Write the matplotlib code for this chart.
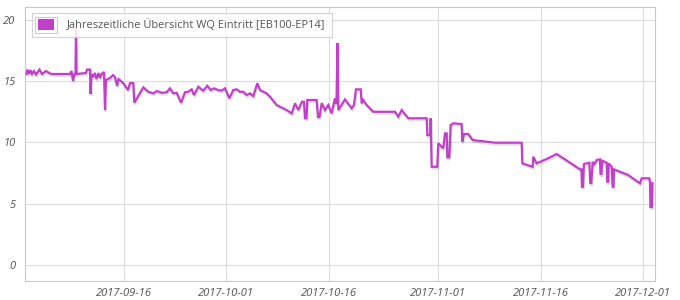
import matplotlib
matplotlib.use("Agg")
import matplotlib.pyplot as plt
import matplotlib.dates as mdates
import matplotlib.patheffects as pe
from matplotlib.patches import Rectangle
from matplotlib.legend_handler import HandlerBase
import pandas as pd

# ---- data (days since 2017-09-01, value) ----
start_date = "2017-09-01"
day_offsets = [
    0.72, 0.87, 1.09, 1.31, 1.53, 1.82, 2.11, 2.63, 2.99, 3.58, 4.31, 7.09, 7.31, 7.53, 7.75,
    7.90, 7.97, 8.05, 9.44, 9.58, 10.02, 10.10, 10.24, 10.46, 10.75, 10.97, 11.27, 11.49, 11.71,
    12.07, 12.22, 12.36, 12.66, 12.95, 13.39, 13.68, 13.98, 14.19, 14.56, 15.00, 15.59, 15.88,
    16.36, 16.51, 17.83, 18.56, 19.29, 19.79, 20.52, 21.25, 21.73, 22.22, 22.72, 23.35, 23.93,
    24.41, 24.91, 25.25, 25.88, 26.61, 27.20, 27.69, 28.18, 28.81, 29.30, 29.79, 30.42, 31.00,
    31.50, 31.98, 32.47, 32.97, 33.45, 33.93, 34.52, 34.91, 35.40, 35.89, 36.38, 37.36, 38.32,
    39.06, 39.55, 40.04, 40.52, 41.06, 41.35, 41.50, 41.72, 41.84, 43.21, 43.40, 43.62, 43.95,
    44.43, 44.91, 45.41, 45.89, 46.11, 46.26, 46.38, 47.36, 48.34, 48.67, 48.97, 49.66, 49.80,
    50.04, 50.53, 51.50, 54.68, 55.16, 55.66, 56.63, 59.32, 59.41, 59.85, 59.90, 60.05, 60.87,
    61.02, 61.27, 61.75, 62.00, 62.25, 62.34, 62.63, 62.83, 63.21, 64.44, 64.53, 64.78, 65.41,
    66.05, 69.32, 73.23, 73.32, 74.84, 74.93, 75.42, 77.12, 78.35, 79.57, 81.77, 81.98, 82.05,
    82.20, 82.34, 83.13, 83.27, 83.42, 83.62, 83.81, 84.21, 84.69, 84.77, 84.91, 85.03, 85.67,
    85.76, 85.91, 85.96, 86.40, 86.55, 86.67, 86.74, 88.84, 90.55, 90.80, 91.91, 92.01, 92.08,
    92.30, 92.37,
]
wq_values = [
    15.57, 15.93, 15.57, 15.89, 15.57, 15.81, 15.53, 15.93, 15.57, 15.81, 15.57, 15.57, 15.81, 15.00, 15.57,
    15.57, 19.32, 15.57, 15.65, 15.93, 15.93, 13.94, 15.57, 15.32, 15.65, 15.16, 15.65, 15.24, 15.57,
    15.73, 12.63, 15.08, 15.16, 15.24, 15.48, 15.32, 14.59, 15.16, 15.00, 14.75, 14.26, 14.83,
    14.83, 13.23, 14.48, 14.12, 13.99, 14.18, 14.04, 14.08, 14.40, 13.99, 14.04, 13.23, 14.08,
    14.12, 14.32, 13.85, 14.53, 14.21, 14.61, 14.26, 14.40, 14.26, 14.21, 14.40, 13.59, 14.26,
    14.32, 14.12, 14.12, 13.85, 13.99, 13.77, 14.81, 14.26, 14.12, 13.99, 13.72, 13.04, 12.77,
    12.55, 12.36, 13.18, 12.63, 13.31, 13.31, 11.96, 11.96, 13.45, 13.45, 12.06, 12.06, 13.20,
    12.63, 13.04, 12.36, 13.59, 13.12, 18.09, 12.63, 13.50, 12.77, 13.04, 14.32, 14.32, 13.18,
    13.45, 13.04, 12.49, 12.49, 12.09, 12.63, 11.96, 11.96, 10.59, 10.59, 11.96, 8.01, 8.01,
    9.92, 9.78, 9.51, 10.73, 10.73, 8.78, 8.78, 11.41, 11.55, 11.49, 10.05, 10.68, 10.68,
    10.19, 9.97, 9.97, 8.29, 8.01, 8.83, 8.29, 8.70, 9.05, 8.61, 7.80, 7.80, 6.38,
    6.38, 8.23, 8.34, 6.68, 6.68, 8.42, 8.15, 8.56, 8.61, 7.42, 7.42, 8.50, 8.34,
    6.79, 6.79, 8.29, 8.01, 6.38, 6.38, 7.80, 7.33, 6.66, 7.07, 7.07, 6.79, 4.73,
    4.73, 6.68,
]
series_label = "Jahreszeitliche Übersicht WQ Eintritt [EB100-EP14]"
y_ticks = [0, 5, 10, 15, 20]
x_tick_dates = ["2017-09-16", "2017-10-01", "2017-10-16", "2017-11-01", "2017-11-16", "2017-12-01"]

LINE_COLOR = "#c23fc9"
TEXT_COLOR = "#545454"
GRID_COLOR = "#dcdcdc"

base = pd.Timestamp(start_date)
dates = [base + pd.Timedelta(days=d) for d in day_offsets]

fig = plt.figure(figsize=(6.8, 3.0), dpi=100)
ax = fig.add_axes([25 / 680, 19 / 300, 630 / 680, 274 / 300])

ax.plot(dates, wq_values, color=LINE_COLOR, lw=1.6, solid_joinstyle="miter",
        path_effects=[pe.SimpleLineShadow(offset=(0.6, -1.4), shadow_color="#000000", alpha=0.12),
                      pe.Normal()], zorder=3)

ax.set_xlim(base + pd.Timedelta(days=0.505), base + pd.Timedelta(days=92.75))
ax.set_ylim(-1.30, 21.03)

ax.set_yticks(y_ticks)
ax.set_xticks([pd.Timestamp(d) for d in x_tick_dates])
ax.xaxis.set_major_formatter(mdates.DateFormatter("%Y-%m-%d"))

for lab in ax.get_xticklabels() + ax.get_yticklabels():
    lab.set_fontfamily("Open Sans")
    lab.set_fontstyle("italic")
    lab.set_fontsize(8)
    lab.set_color(TEXT_COLOR)
for lab in ax.get_xticklabels():
    lab.set_x(lab.get_position()[0])
ax.tick_params(axis="both", length=0, colors=TEXT_COLOR)
ax.tick_params(axis="x", pad=5)
ax.tick_params(axis="y", pad=7)

ax.grid(True, color=GRID_COLOR, lw=0.8)
ax.set_axisbelow(True)
for s in ax.spines.values():
    s.set_color("#c8c8c8")
    s.set_linewidth(0.8)


class SwatchHandler(HandlerBase):
    def create_artists(self, legend, orig_handle, xdescent, ydescent, width, height, fontsize, trans):
        outer = Rectangle((-xdescent - 2, -ydescent - 2), width + 4, height + 4,
                          facecolor="white", edgecolor="#cccccc", lw=0.8, transform=trans)
        inner = Rectangle((-xdescent, -ydescent), width, height,
                          facecolor=LINE_COLOR, edgecolor="none", transform=trans)
        return [outer, inner]


handle = Rectangle((0, 0), 1, 1)
leg = ax.legend([handle], [series_label], handler_map={Rectangle: SwatchHandler()},
                loc="upper left", bbox_to_anchor=(6.7 / 630, 1 - 6.3 / 274), borderaxespad=0,
                frameon=True, fancybox=False, framealpha=0.85, edgecolor="#cccccc",
                handlelength=1.5, handleheight=1.13, handletextpad=1.2, borderpad=0.55,
                prop=dict(family="Open Sans", size=7.9))
leg.get_frame().set_linewidth(0.8)
for t in leg.get_texts():
    t.set_color(TEXT_COLOR)
leg.set_zorder(5)

fig.savefig("out.png", dpi=100)
